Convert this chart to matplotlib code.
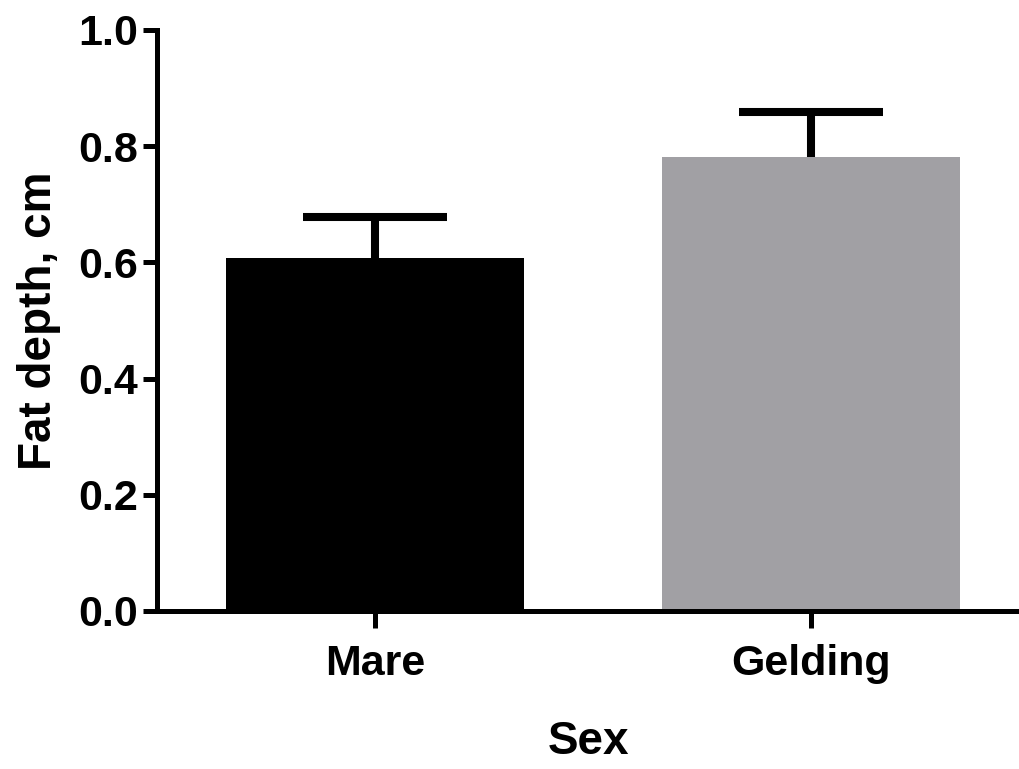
import numpy as np
import matplotlib.pyplot as plt

plt.rcParams['font.family'] = ['Liberation Sans', 'DejaVu Sans']
plt.rcParams['font.weight'] = 'bold'

groups = ['Mare', 'Gelding']
fat_depth = [0.607, 0.781]
sem_up = [0.071, 0.078]
bar_colors = ['#000000', '#a1a0a4']

fig = plt.figure(figsize=(10.2, 7.69), dpi=100)
ax = fig.add_axes([0.154, 0.2055, 0.846, 0.7555])

x = np.arange(len(groups))
ax.bar(x, fat_depth, width=0.683, color=bar_colors, zorder=2)
eb = ax.errorbar(x, fat_depth, yerr=[np.zeros(len(x)), sem_up], fmt='none',
                 ecolor='black', elinewidth=5.8, capsize=52, capthick=5.8, zorder=1)
# only the upper cap is wanted
eb[1][0].set_visible(False)

ax.set_xlim(-0.5, 1.48)
ax.set_ylim(0, 1.0)
ax.set_yticks([0.0, 0.2, 0.4, 0.6, 0.8, 1.0])
ax.set_yticklabels(['0.0', '0.2', '0.4', '0.6', '0.8', '1.0'])
ax.set_xticks(x)
ax.set_xticklabels(groups)

for s in ['top', 'right']:
    ax.spines[s].set_visible(False)
for s in ['left', 'bottom']:
    ax.spines[s].set_linewidth(3.6)
ax.tick_params(axis='y', length=10, width=3.6, pad=4, labelsize=31)
ax.tick_params(axis='x', length=12, width=3.6, pad=12, labelsize=31)

ax.set_ylabel('Fat depth, cm', fontsize=33, fontweight='bold', labelpad=12)
ax.set_xlabel('Sex', fontsize=33, fontweight='bold', labelpad=26)

fig.savefig('out.png', dpi=100)
